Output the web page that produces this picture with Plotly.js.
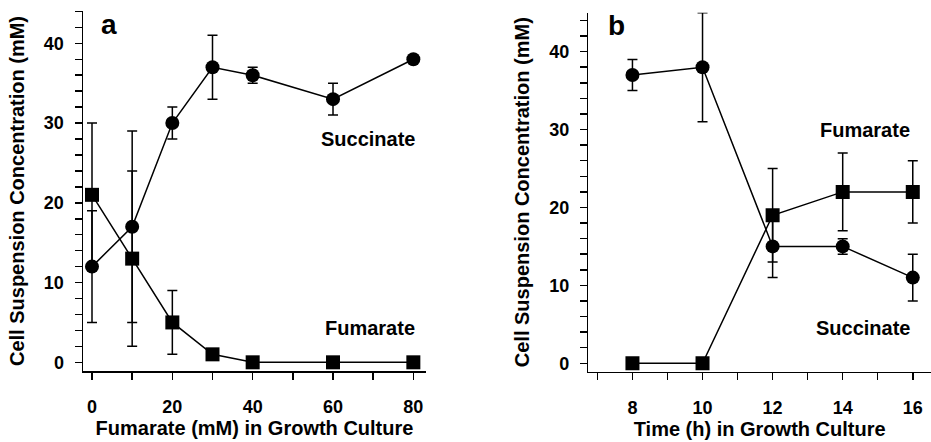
<!DOCTYPE html>
<html>
<head>
<meta charset="utf-8">
<script src="https://cdn.plot.ly/plotly-3.0.1.min.js"></script>
<style>html,body{margin:0;padding:0;background:#fff;}#chart{width:931px;height:442px;}</style>
</head>
<body>
<div id="chart"></div>
<script>
// Panel a: fumarate concentration in growth culture (mM)
const fumarateConc = [0, 10, 20, 30, 40, 60, 80];
const succinateA = [12, 17, 30, 37, 36, 33, 38];
const succinateAErr = [7, 12, 2, 4, 1, 2, 0];
const fumarateA = [21, 13, 5, 1, 0, 0, 0];
const fumarateAErr = [9, 11, 4, 0, 0, 0, 0];

// Panel b: time in growth culture (h)
const timeH = [8, 10, 12, 14, 16];
const succinateB = [37, 38, 15, 15, 11];
const succinateBErr = [2, 7, 4, 1, 3];
const fumarateB = [0, 0, 19, 22, 22];
const fumarateBErr = [0, 0, 6, 5, 4];

const xTitleA = 'Fumarate (mM) in Growth Culture';
const xTitleB = 'Time (h) in Growth Culture';
const yTitle = 'Cell Suspension Concentration (mM)';

const FAM = 'Liberation Sans, Arial, Helvetica, sans-serif';
const W = 931, H = 442;

function errBar(arr) {
  return {type: 'data', array: arr, visible: true, color: '#000', thickness: 1.5, width: 5};
}
function trace(x, y, err, symbol, xa, ya, size) {
  return {
    x: x, y: y, xaxis: xa, yaxis: ya, type: 'scatter', mode: 'lines+markers',
    line: {color: '#000', width: 1.5},
    marker: {symbol: symbol, size: size, color: '#000', line: {width: 0}},
    error_y: errBar(err), showlegend: false, hoverinfo: 'skip'
  };
}

const data = [
  trace(fumarateConc, fumarateA, fumarateAErr, 'square', 'x', 'y', 14),
  trace(fumarateConc, succinateA, succinateAErr, 'circle', 'x', 'y', 14),
  trace(timeH, fumarateB, fumarateBErr, 'square', 'x2', 'y2', 14),
  trace(timeH, succinateB, succinateBErr, 'circle', 'x2', 'y2', 14)
];

const tickFont = {family: FAM, size: 18, color: '#000', weight: 'bold'};
const titleFont = {family: FAM, size: 20, color: '#000', weight: 'bold'};

function xAxis(domain, range, dtick, minorDtick, title, anchor) {
  return {
    domain: domain, range: range, anchor: anchor,
    showline: true, linecolor: '#000', linewidth: 1.5,
    showgrid: false, zeroline: false,
    ticks: 'outside', ticklen: 7, tickwidth: 1.5, tickcolor: '#000',
    dtick: dtick, tick0: 0, tickfont: tickFont, ticklabelstandoff: 12,
    minor: {dtick: minorDtick, ticks: 'outside', ticklen: 7, tickwidth: 1.5, tickcolor: '#000', showgrid: false},
    title: {text: title, font: titleFont, standoff: 4},
    automargin: false, fixedrange: true
  };
}
function yAxis(domain, range, title, anchor) {
  return {
    domain: domain, range: range, anchor: anchor,
    showline: true, linecolor: '#000', linewidth: 1.5,
    showgrid: false, zeroline: false,
    ticks: 'outside', ticklen: 7, tickwidth: 1.5, tickcolor: '#000',
    dtick: 10, tick0: 0, tickfont: tickFont, ticklabelstandoff: 7,
    minor: {dtick: 2, ticks: 'outside', ticklen: 7, tickwidth: 1.5, tickcolor: '#000', showgrid: false},
    title: {text: title, font: titleFont, standoff: 14},
    automargin: false, fixedrange: true
  };
}

const annFont = {family: FAM, size: 20, color: '#000', weight: 'bold'};
const letterFont = {family: FAM, size: 28, color: '#000', weight: 'bold'};

const layout = {
  width: W, height: H,
  margin: {l: 0, r: 0, t: 0, b: 0},
  paper_bgcolor: '#fff', plot_bgcolor: 'rgba(0,0,0,0)',
  showlegend: false,
  xaxis: xAxis([83 / W, 426 / W], [-2.24, 83.15], 20, 10, xTitleA, 'y'),
  yaxis: yAxis([1 - 371 / H, 1 - 11 / H], [-1.09, 44.05], yTitle, 'x'),
  xaxis2: xAxis([588.3 / W, 1], [6.74, 16.52], 2, 1, xTitleB, 'y2'),
  yaxis2: yAxis([1 - 371.7 / H, 1 - 12.7 / H], [-1.08, 45.0], yTitle, 'x2'),
  annotations: [
    {xref: 'x', yref: 'y', x: 1.8, y: 42.3, text: 'a', showarrow: false, xanchor: 'left', yanchor: 'middle', font: letterFont},
    {xref: 'x', yref: 'y', x: 81, y: 28.0, text: 'Succinate', showarrow: false, xanchor: 'right', yanchor: 'middle', font: annFont},
    {xref: 'x', yref: 'y', x: 81, y: 4.3, text: 'Fumarate', showarrow: false, xanchor: 'right', yanchor: 'middle', font: annFont},
    {xref: 'x2', yref: 'y2', x: 7.25, y: 43.3, text: 'b', showarrow: false, xanchor: 'left', yanchor: 'middle', font: letterFont},
    {xref: 'x2', yref: 'y2', x: 15.98, y: 29.95, text: 'Fumarate', showarrow: false, xanchor: 'right', yanchor: 'middle', font: annFont},
    {xref: 'x2', yref: 'y2', x: 15.98, y: 4.49, text: 'Succinate', showarrow: false, xanchor: 'right', yanchor: 'middle', font: annFont}
  ]
};

Plotly.newPlot('chart', data, layout, {staticPlot: true, displayModeBar: false});
</script>
</body>
</html>
